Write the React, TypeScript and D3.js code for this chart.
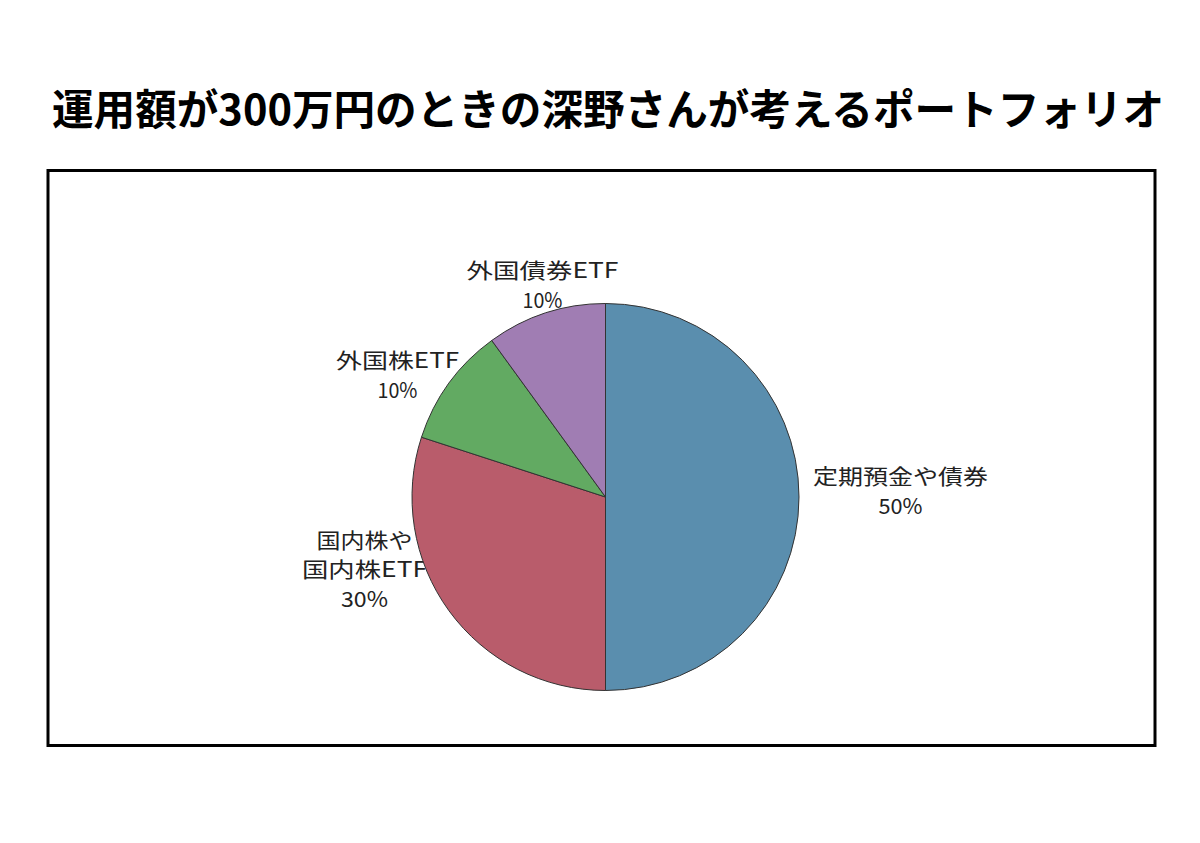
import React from "react";
import * as d3 from "d3";

const title = "運用額が300万円のときの深野さんが考えるポートフォリオ";
const categories = ["定期預金や債券", "国内株や国内株ETF", "外国株ETF", "外国債券ETF"];
const values = [50, 30, 10, 10];
const labelLines = [
  ["定期預金や債券", "50%"],
  ["国内株や", "国内株ETF", "30%"],
  ["外国株ETF", "10%"],
  ["外国債券ETF", "10%"],
];
const colors = ["#5a8eae", "#b95c6b", "#62aa62", "#a07db3"];

// layout (label placement, relative to pie center, and fitted text widths)
const labelPos = [
  { dx: 295, dy: -9, widths: [175, 44] },
  { dx: -241, dy: 69, widths: [96, 125, 47] },
  { dx: -208, dy: -125, widths: [123, 40] },
  { dx: -63, dy: -215, widths: [152, 40] },
];

export default function App() {
  const W = 1200;
  const H = 843;
  const cx = 605.5;
  const cy = 497;
  const r = 193.5;
  const pie = d3.pie<number>().sort(null).value((d) => d)(values);
  const arc = d3.arc<d3.PieArcDatum<number>>().innerRadius(0).outerRadius(r);
  const lineH = 29.5;
  const fontCJK = "'Noto Sans CJK JP', 'Noto Sans', sans-serif";

  return (
    <svg
      width={W}
      height={H}
      viewBox={`0 0 ${W} ${H}`}
      style={{ position: "absolute", left: 0, top: 0, background: "#fff" }}
    >
      <rect x={0} y={0} width={W} height={H} fill="#fff" />
      <text
        x={52}
        y={125}
        fontFamily={fontCJK}
        fontWeight={700}
        fontSize={42}
        fill="#000"
        textLength={1112}
        lengthAdjust="spacingAndGlyphs"
      >
        {title}
      </text>
      <rect x={48} y={170.5} width={1107} height={575} fill="none" stroke="#000" strokeWidth={3} />
      <g>
        {labelLines.map((lines, i) => {
          const p = labelPos[i];
          const n = lines.length;
          const baseY = cy + p.dy - ((n - 1) * lineH) / 2 + 11;
          return (
            <g key={categories[i]}>
              {lines.map((t, j) => (
                <text
                  key={j}
                  x={cx + p.dx}
                  y={baseY + j * lineH}
                  textAnchor="middle"
                  fontFamily={fontCJK}
                  fontSize={21}
                  fill="#222"
                  textLength={p.widths[j]}
                  lengthAdjust="spacingAndGlyphs"
                >
                  {t}
                </text>
              ))}
            </g>
          );
        })}
      </g>
      <g transform={`translate(${cx},${cy})`}>
        {pie.map((d, i) => (
          <path key={categories[i]} d={arc(d) || ""} fill={colors[i]} stroke="#333" strokeWidth={1} />
        ))}
      </g>
    </svg>
  );
}
